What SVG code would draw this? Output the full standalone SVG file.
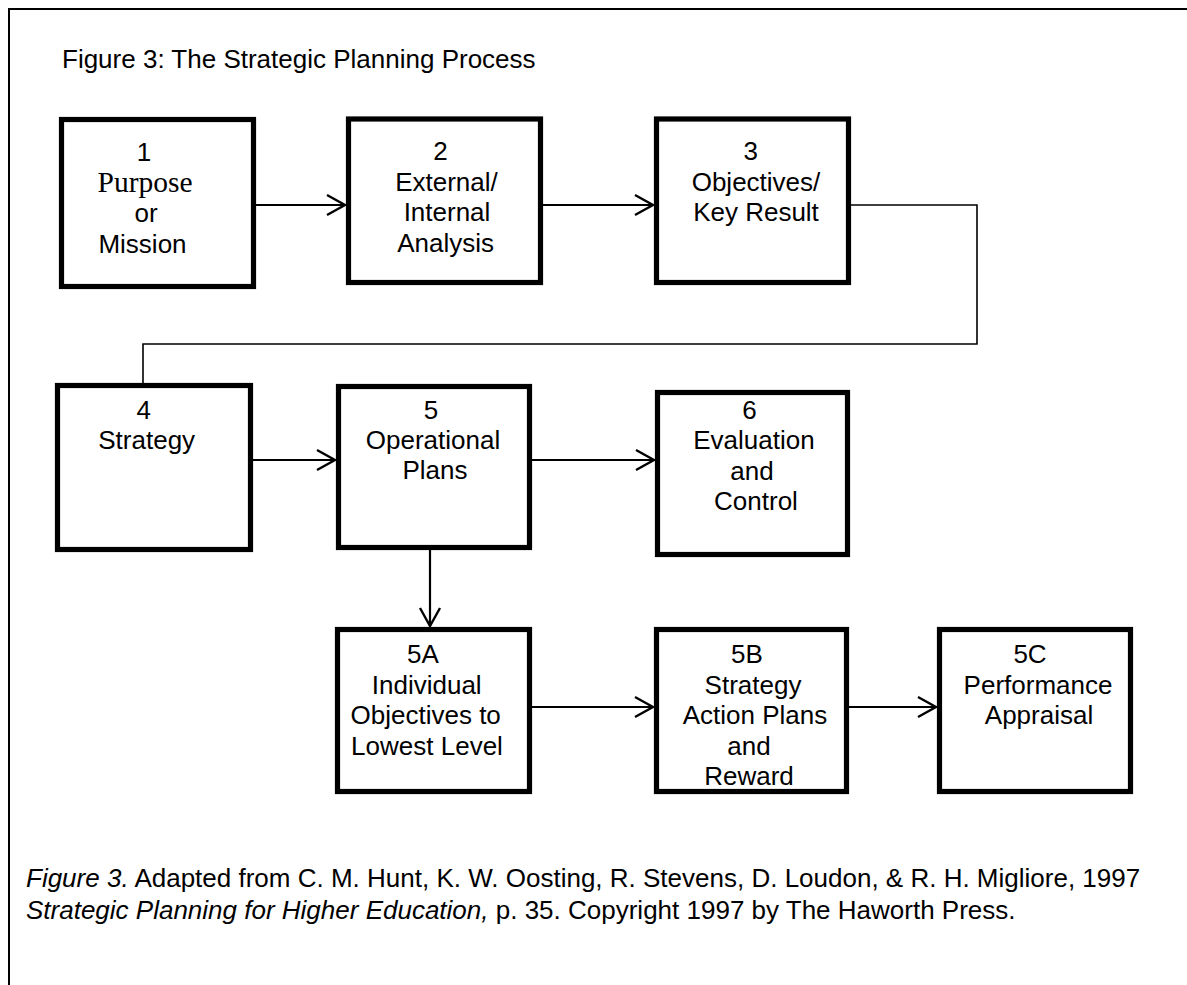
<svg xmlns="http://www.w3.org/2000/svg" width="1187" height="985" viewBox="0 0 1187 985">
<style>
text{font-family:"Liberation Sans",Arial,sans-serif;font-size:26px;fill:#000}
.c{text-anchor:middle}
text.serif{font-family:"Liberation Serif","Times New Roman",serif;font-size:29.5px}
.box{fill:#fff;stroke:#000;stroke-width:5.2}
.arrow{fill:none;stroke:#000;stroke-width:2.2;marker-end:url(#arr)}
.link{fill:none;stroke:#000;stroke-width:1.6}
.it{font-style:italic}
</style>
<defs>
<marker id="arr" markerWidth="24" markerHeight="26" viewBox="-3 -3 24 26" refX="18" refY="10" orient="auto" markerUnits="userSpaceOnUse">
<path d="M0,0 L18,10 L0,20" fill="none" stroke="#000" stroke-width="2.4"/>
</marker>
</defs>
<rect x="0" y="0" width="1187" height="985" fill="#fff"/>
<g id="frame">
<line x1="8" y1="9" x2="1187" y2="9" stroke="#000" stroke-width="2"/>
<line x1="9" y1="8" x2="9" y2="985" stroke="#000" stroke-width="2"/>
</g>
<text id="title" x="62" y="68">Figure 3: The Strategic Planning Process</text>
<g id="connectors">
<line class="arrow" x1="256" y1="205" x2="345" y2="205"/>
<line class="arrow" x1="543" y1="205" x2="653" y2="205"/>
<polyline class="link" points="851,205 977,205 977,344 143,344 143,383"/>
<line class="arrow" x1="253" y1="460" x2="335" y2="460"/>
<line class="arrow" x1="532" y1="460" x2="654" y2="460"/>
<line class="arrow" x1="430" y1="550" x2="430" y2="626"/>
<line class="arrow" x1="532" y1="707" x2="653" y2="707"/>
<line class="arrow" x1="849" y1="707" x2="936" y2="707"/>
</g>
<g id="n1">
<rect class="box" x="61.5" y="119.5" width="192" height="167"/>
<text class="c" x="144" y="161">1</text>
<text class="c serif" x="145" y="191.5">Purpose</text>
<text class="c" x="146" y="222">or</text>
<text class="c" x="142.5" y="253">Mission</text>
</g>
<g id="n2">
<rect class="box" x="348.5" y="119" width="192" height="163.5"/>
<text class="c" x="440.5" y="160">2</text>
<text class="c" x="446.5" y="190.5">External/</text>
<text class="c" x="447" y="221">Internal</text>
<text class="c" x="445.7" y="251.5">Analysis</text>
</g>
<g id="n3">
<rect class="box" x="656.5" y="119" width="192" height="163.5"/>
<text class="c" x="750.7" y="160">3</text>
<text class="c" x="756" y="190.5">Objectives/</text>
<text class="c" x="756" y="221">Key Result</text>
</g>
<g id="n4">
<rect class="box" x="57.5" y="385.5" width="193" height="164"/>
<text class="c" x="143.7" y="418.5">4</text>
<text class="c" x="146.7" y="448.5">Strategy</text>
</g>
<g id="n5">
<rect class="box" x="338.5" y="386.5" width="191" height="161"/>
<text class="c" x="431" y="419">5</text>
<text class="c" x="433" y="449">Operational</text>
<text class="c" x="435" y="479">Plans</text>
</g>
<g id="n6">
<rect class="box" x="657.5" y="392.5" width="190" height="162"/>
<text class="c" x="749.5" y="419">6</text>
<text class="c" x="754" y="449">Evaluation</text>
<text class="c" x="752" y="480">and</text>
<text class="c" x="756" y="509.5">Control</text>
</g>
<g id="n5A">
<rect class="box" x="337.5" y="629.5" width="192" height="162"/>
<text class="c" x="423" y="663">5A</text>
<text class="c" x="426.7" y="693.5">Individual</text>
<text class="c" x="425.7" y="724">Objectives to</text>
<text class="c" x="427" y="754.5">Lowest Level</text>
</g>
<g id="n5B">
<rect class="box" x="656.5" y="629.5" width="190" height="162"/>
<text class="c" x="747" y="663">5B</text>
<text class="c" x="753" y="693.5">Strategy</text>
<text class="c" x="755" y="724">Action Plans</text>
<text class="c" x="749" y="754.5">and</text>
<text class="c" x="749" y="785">Reward</text>
</g>
<g id="n5C">
<rect class="box" x="939.5" y="629.5" width="191" height="162"/>
<text class="c" x="1030" y="663">5C</text>
<text class="c" x="1038" y="694">Performance</text>
<text class="c" x="1039" y="724">Appraisal</text>
</g>
<g id="caption">
<text x="26" y="887"><tspan class="it">Figure 3.</tspan> Adapted from C. M. Hunt, K. W. Oosting, R. Stevens, D. Loudon, &amp; R. H. Migliore, 1997</text>
<text x="26" y="919"><tspan class="it">Strategic Planning for Higher Education,</tspan> p. 35. Copyright 1997 by The Haworth Press.</text>
</g>
</svg>
